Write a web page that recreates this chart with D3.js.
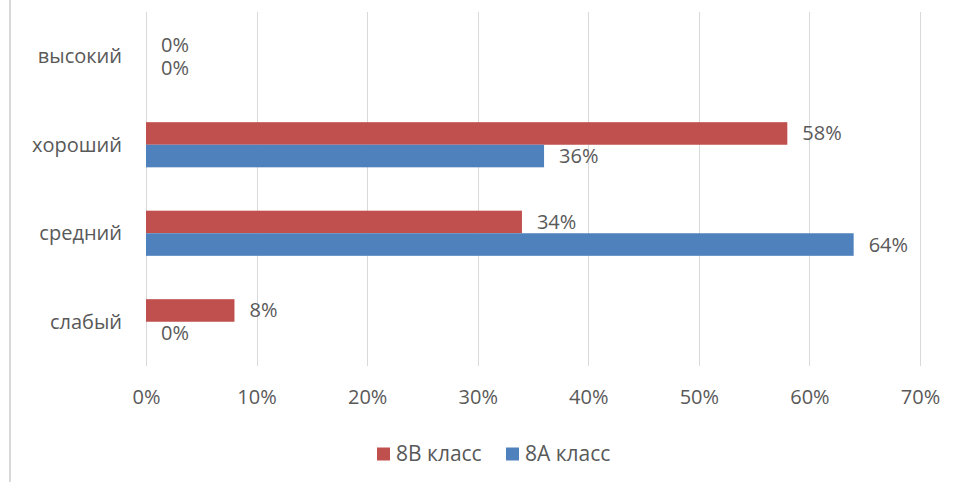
<!DOCTYPE html>
<html><head><meta charset="utf-8">
<script src="https://cdn.jsdelivr.net/npm/d3@7/dist/d3.min.js"></script>
<style>body{margin:0;background:#fff}svg{display:block}text{font-family:"Open Sans","Noto Sans",sans-serif;fill:#595959}</style>
</head><body><svg id="c" width="957" height="482"></svg>
<script>
const categories = ["высокий", "хороший", "средний", "слабый"];
const seriesNames = ["8В класс", "8А класс"];
const values8V = [0, 58, 34, 8];
const values8A = [0, 36, 64, 0];
const xTicks = [0, 10, 20, 30, 40, 50, 60, 70];
const colors = ["#C0504D", "#4F81BD"];

const svg = d3.select("#c");
const m = {left: 146, right: 37, top: 12, bottom: 116};
const W = 957, H = 482;
const x = d3.scaleLinear().domain([0, 70]).range([m.left, W - m.right]);
const y = d3.scaleBand().domain(categories).range([m.top, H - m.bottom]).paddingInner(0.49).paddingOuter(0.245);
const sub = d3.scaleBand().domain(seriesNames).range([0, y.bandwidth()]);

// left border line
svg.append("line").attr("x1", 10).attr("x2", 10).attr("y1", 0).attr("y2", H).attr("stroke", "#d9d9d9").attr("stroke-width", 2);

// gridlines
svg.append("g").selectAll("line").data(xTicks).join("line")
  .attr("x1", d => Math.round(x(d)) + 0.5).attr("x2", d => Math.round(x(d)) + 0.5)
  .attr("y1", m.top).attr("y2", H - m.bottom).attr("stroke", "#d9d9d9").attr("stroke-width", 1);

// x tick labels
const xAxis = d3.axisBottom(x).tickValues(xTicks).tickFormat(d => d + "%").tickSize(0).tickPadding(0);
const gx = svg.append("g").attr("transform", `translate(0,${H - m.bottom + 31})`).call(xAxis);
gx.select(".domain").remove();
gx.selectAll("text").attr("font-size", 20).attr("dy", "0.35em").style("font-family", null);

// y category labels
const yAxis = d3.axisLeft(y).tickSize(0).tickPadding(0);
const gy = svg.append("g").attr("transform", `translate(${m.left - 24},0)`).call(yAxis);
gy.select(".domain").remove();
gy.selectAll("text").attr("font-size", 20).attr("dy", "0.35em").style("font-family", null);

const data = [values8V, values8A];
data.forEach((vals, si) => {
  const g = svg.append("g");
  g.selectAll("rect").data(vals.map((v, i) => ({v, c: categories[i]}))).join("rect")
    .attr("x", x(0)).attr("y", d => y(d.c) + sub(seriesNames[si]))
    .attr("width", d => x(d.v) - x(0)).attr("height", sub.bandwidth())
    .attr("fill", colors[si]);
  g.selectAll("text").data(vals.map((v, i) => ({v, c: categories[i]}))).join("text")
    .attr("x", d => x(d.v) + 15).attr("y", d => y(d.c) + sub(seriesNames[si]) + sub.bandwidth() / 2)
    .attr("dy", "0.35em").attr("font-size", 20).text(d => d.v + "%");
});

// legend
const legX = [377, 506];
const lg = svg.append("g").attr("transform", `translate(0,454)`);
seriesNames.forEach((n, i) => {
  lg.append("rect").attr("x", legX[i]).attr("y", -6.5).attr("width", 13).attr("height", 13).attr("fill", colors[i]);
  lg.append("text").attr("x", legX[i] + 19).attr("y", 0).attr("dy", "0.35em").attr("font-size", 21).text(n);
});
</script></body></html>
